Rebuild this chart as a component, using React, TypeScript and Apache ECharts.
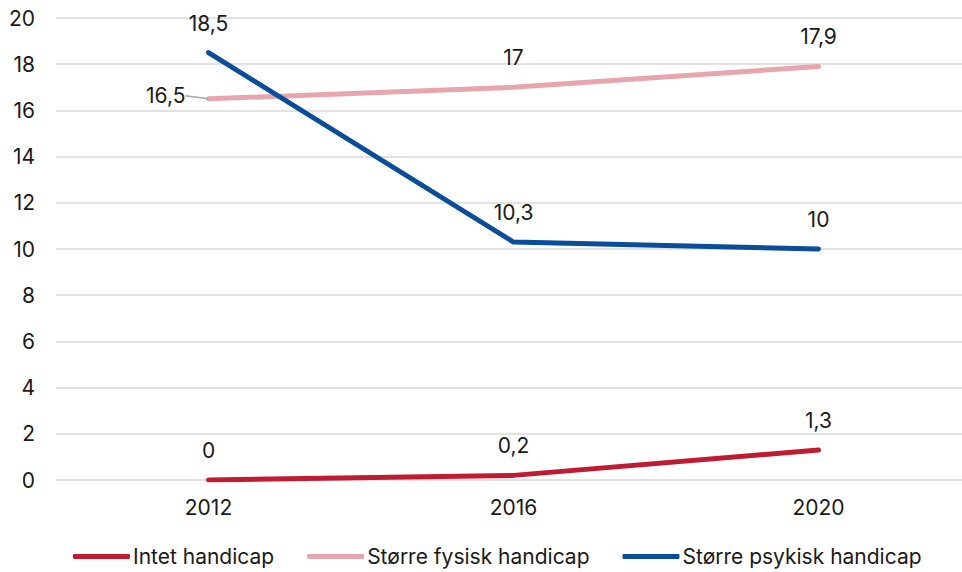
import React, { useEffect, useRef } from "react";
import * as echarts from "echarts";

const years = ["2012", "2016", "2020"];
const intetHandicap = [0, 0.2, 1.3];
const fysiskHandicap = [16.5, 17, 17.9];
const psykiskHandicap = [18.5, 10.3, 10];

const seriesNames = ["Intet handicap", "Større fysisk handicap", "Større psykisk handicap"];
const seriesColors = ["#C01B30", "#E8A5AC", "#0A4E9B"];

const FONT = "Inter, 'Noto Sans', sans-serif";
const FONT_SIZE = 21;

const fmt = (v: number) => String(v).replace(".", ",");

export default function App() {
  const ref = useRef<HTMLDivElement>(null);

  useEffect(() => {
    if (!ref.current) return;
    const chart = echarts.init(ref.current, undefined, { renderer: "svg" });

    const values = [intetHandicap, fysiskHandicap, psykiskHandicap];

    const series = values.map((vals, i) => ({
      name: seriesNames[i],
      type: "line" as const,
      data: vals.map((v, j) => {
        // the first point of the physical-handicap line is labelled on its left
        if (i === 1 && j === 0) {
          return {
            value: v,
            label: { position: "left", distance: 6, padding: [0, 9, 0, 0] },
            labelLine: { show: true },
          };
        }
        return v;
      }),
      showSymbol: true,
      symbol: "circle",
      symbolSize: 0.1,
      itemStyle: { color: seriesColors[i] },
      lineStyle: { color: seriesColors[i], width: 5, cap: "round", join: "round" },
      label: {
        show: true,
        position: "top",
        distance: 19,
        formatter: (p: any) => fmt(p.value),
        color: "#1a1a1a",
        fontFamily: FONT,
        fontSize: FONT_SIZE,
      },
      labelLine: { lineStyle: { color: "#a6a6a6", width: 1.5 } },
      // push the left-hand label away so its leader line shows
      labelLayout:
        i === 1
          ? (p: any) => (p.dataIndex === 0 ? { dx: -8, dy: -3 } : {})
          : undefined,
      emphasis: { disabled: true },
    }));

    chart.setOption({
      animation: false,
      backgroundColor: "#ffffff",
      textStyle: { fontFamily: FONT },
      grid: { left: 56, right: 0, top: 18, bottom: 92, containLabel: false },
      legend: {
        bottom: 0,
        left: 68,
        itemWidth: 57,
        itemHeight: 5,
        itemGap: 33,
        icon: "roundRect",
        textStyle: { fontFamily: FONT, fontSize: FONT_SIZE, color: "#1a1a1a", padding: [0, 0, 0, -2] },
        data: seriesNames,
      },
      xAxis: {
        type: "category",
        data: years,
        boundaryGap: true,
        axisLine: { show: false },
        axisTick: { show: false },
        axisLabel: { color: "#1a1a1a", fontFamily: FONT, fontSize: FONT_SIZE, margin: 17 },
      },
      yAxis: {
        type: "value",
        min: 0,
        max: 20,
        interval: 2,
        axisLine: { show: false },
        axisTick: { show: false },
        splitLine: { lineStyle: { color: "#d9d9d9", width: 1.5 } },
        axisLabel: { color: "#1a1a1a", fontFamily: FONT, fontSize: FONT_SIZE, margin: 21 },
      },
      series,
    });

    return () => chart.dispose();
  }, []);

  return (
    <div style={{ position: "absolute", left: 0, top: 0, width: 962, height: 572, overflow: "hidden" }}>
      <div ref={ref} style={{ width: 971, height: 572 }} />
    </div>
  );
}
